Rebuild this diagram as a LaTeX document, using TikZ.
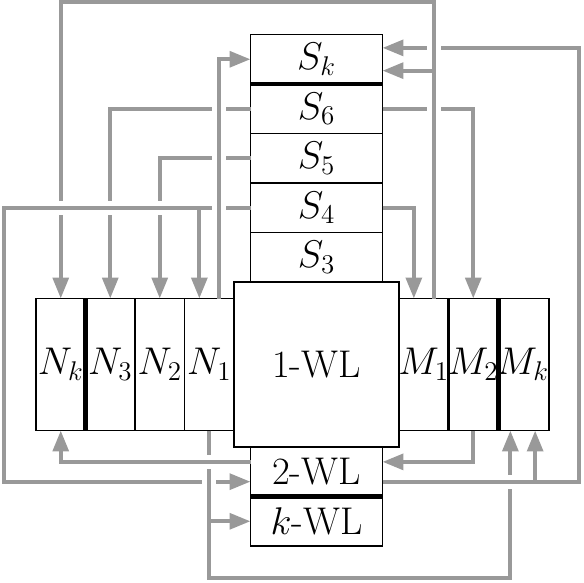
\RequirePackage{fix-cm}
\documentclass[tikz,border=0pt]{standalone}
\usetikzlibrary{arrows.meta}
\tikzset{
  box/.style={draw, line width=1pt, inner sep=0pt, outer sep=0pt, font=\fontsize{22.2}{26}\selectfont},
  sbox/.style={box, minimum width=2.6667cm, minimum height=1cm},
  nbox/.style={box, minimum width=1cm, minimum height=2.6667cm},
  heavy/.style={line width=2.6pt},
  wire/.style={draw=black!40, line width=2.3pt},
  flow/.style={wire, -{Triangle[length=12pt,width=9pt]}},
  bridge/.style={wire, preaction={draw=white, line width=8pt}}
}
\begin{document}
\begin{tikzpicture}
\useasboundingbox (-6.394,-4.394) rectangle (5.404,7.364);

% centre column
\node[box, minimum size=3.3333cm] (wl1) at (0,0) {1-WL};
\node[sbox] (s3) at (0,2.1667) {$S_3$};
\node[sbox] (s4) at (0,3.1667) {$S_4$};
\node[sbox] (s5) at (0,4.1667) {$S_5$};
\node[sbox] (s6) at (0,5.1667) {$S_6$};
\node[sbox] (sk) at (0,6.1667) {$S_k$};
\node[sbox] (wl2) at (0,-2.1667) {2-WL};
\node[sbox] (wlk) at (0,-3.1667) {$k$-WL};

% left and right rows
\node[nbox] (n1) at (-2.1667,0) {$N_1$};
\node[nbox] (n2) at (-3.1667,0) {$N_2$};
\node[nbox] (n3) at (-4.1667,0) {$N_3$};
\node[nbox] (nk) at (-5.1667,0) {$N_k$};
\node[nbox] (m1) at (2.1667,0) {$M_1$};
\node[nbox] (m2) at (3.1667,0) {$M_2$};
\node[nbox] (mk) at (4.1667,0) {$M_k$};

\draw[heavy] (sk.south west) -- (sk.south east);
\draw[heavy] (nk.north east) -- (nk.south east);
\draw[heavy] (m2.north east) -- (m2.south east);
\draw[heavy] (wl2.south west) -- (wl2.south east);

\coordinate (top) at (0,7.32);
\coordinate (bot) at (0,-4.32);
\coordinate (lft) at (-6.32,0);
\coordinate (rgt) at (5.31,0);

% S side
\draw[flow] (s6.east) -| (m2.north);
\draw[flow] (s4.east) -| ([xshift=-2mm]m1.north);
\draw[flow] (s6.west) -| (n3.north);
\draw[flow] (s5.west) -| (n2.north);
\draw[flow] (s4.west) -| ([xshift=-2mm]n1.north);
\draw[flow] (s4.west) -| (lft) |- ([yshift=-2mm]wl2.west);

% into S_k
\draw[flow] ([xshift=2mm]n1.north) |- (sk.west);
\draw[flow] ([xshift=2mm]m1.north) |- ([yshift=-2.3mm]sk.east);
\draw[flow] ([xshift=2mm]m1.north) |- (top) -| (nk.north);
\draw[flow] ([yshift=-2mm]wl2.east) -| (rgt) |- ([yshift=2.3mm]sk.east);
\draw[flow] ([yshift=-2mm]wl2.east) -| ([xshift=2.5mm]mk.south);

% lower side
\draw[flow] ([yshift=2mm]wl2.west) -| (nk.south);
\draw[flow] (m2.south) |- ([yshift=2mm]wl2.east);
\draw[flow] (n1.south) |- (wlk.west);
\draw[flow] (n1.south) |- (bot) -| ([xshift=-2.5mm]mk.south);

% crossings
\foreach \x/\y in {2.3667/5.1667, 2.3667/6.3967, -1.9667/5.1667, -1.9667/4.1667, -1.9667/3.1667, -2.1667/-2.3667}
  \draw[bridge] (\x,\y) ++(0,-0.2) -- ++(0,0.4);
\foreach \x/\y in {-5.1667/3.1667, -4.1667/3.1667, -3.1667/3.1667, -2.1667/-1.9667, 3.9167/-2.3667}
  \draw[bridge] (\x,\y) ++(-0.2,0) -- ++(0.4,0);

\end{tikzpicture}
\end{document}
